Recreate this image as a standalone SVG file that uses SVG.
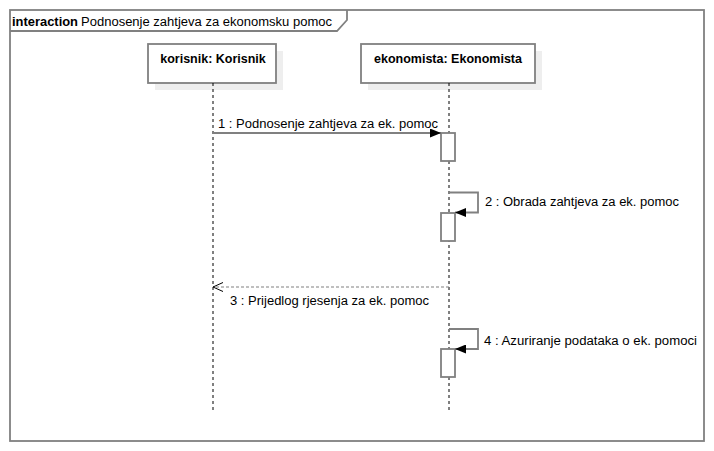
<svg xmlns="http://www.w3.org/2000/svg" width="714" height="451" viewBox="0 0 714 451">
<defs>
<style>
.frame{fill:none;stroke:#808080;stroke-width:1.8}
.box{fill:#ffffff;stroke:#808080;stroke-width:1.8}
.shadow{fill:#eeeeee;stroke:none}
.life{stroke:#000;stroke-width:1;stroke-dasharray:3,3;fill:none}
.msg{stroke:#808080;stroke-width:1.8;fill:none}
.ret{stroke:#808080;stroke-width:1.2;stroke-dasharray:3,2;fill:none}
.act{fill:#ffffff;stroke:#808080;stroke-width:1.8}
text{font-family:"DejaVu Sans","Liberation Sans",sans-serif;font-size:12px;fill:#000}
.t{font-family:"Liberation Sans",Arial,sans-serif;font-size:12.5px}
.b{font-weight:bold}
</style>
<marker id="filled" markerWidth="11" markerHeight="9" refX="11" refY="4.5" orient="auto" markerUnits="userSpaceOnUse">
<path d="M0,0 L11,4.5 L0,9 Z" fill="#000"/>
</marker>
<marker id="open" markerWidth="11" markerHeight="11" refX="10" refY="5" orient="auto" markerUnits="userSpaceOnUse">
<path d="M0,0.5 L10,5 L0,9.5" fill="none" stroke="#000" stroke-width="1"/>
</marker>
</defs>
<rect width="714" height="451" fill="#ffffff"/>
<g id="frame">
<rect class="frame" x="10" y="10" width="694" height="431"/>
<path class="frame" d="M10,31 L337,31 L347,20 L347,10"/>
<text class="t b" x="12" y="26" textLength="66" lengthAdjust="spacingAndGlyphs">interaction</text>
<text class="t" x="81" y="26" textLength="251" lengthAdjust="spacingAndGlyphs">Podnosenje zahtjeva za ekonomsku pomoc</text>
</g>
<g id="korisnik">
<rect class="shadow" x="155" y="51" width="128" height="39"/>
<rect class="box" x="148" y="44" width="128" height="39"/>
<text class="t b" x="213" y="63" text-anchor="middle">korisnik: Korisnik</text>
<line class="life" x1="213" y1="83" x2="213" y2="412"/>
</g>
<g id="ekonomista">
<rect class="shadow" x="368" y="51" width="174" height="39"/>
<rect class="box" x="361" y="44" width="174" height="39"/>
<text class="t b" x="448" y="63" text-anchor="middle">ekonomista: Ekonomista</text>
<line class="life" x1="449" y1="83" x2="449" y2="412"/>
</g>
<g id="activations">
<rect class="act" x="441" y="133" width="14" height="28"/>
<rect class="act" x="441" y="213" width="14" height="28"/>
<rect class="act" x="441" y="349" width="14" height="28"/>
</g>
<g id="connectors">
<line class="msg" x1="213" y1="133" x2="441" y2="133" marker-end="url(#filled)"/>
<polyline class="msg" points="449,192.5 478,192.5 478,212.5 455,212.5" marker-end="url(#filled)"/>
<line class="ret" x1="449" y1="287" x2="213" y2="287" marker-end="url(#open)"/>
<polyline class="msg" points="449,329 478,329 478,349 455,349" marker-end="url(#filled)"/>
</g>
<g id="labels">
<text class="t" x="218" y="128" textLength="220" lengthAdjust="spacingAndGlyphs">1 : Podnosenje zahtjeva za ek. pomoc</text>
<text class="t" x="485" y="206" textLength="194" lengthAdjust="spacingAndGlyphs">2 : Obrada zahtjeva za ek. pomoc</text>
<text class="t" x="230" y="305" textLength="199" lengthAdjust="spacingAndGlyphs">3 : Prijedlog rjesenja za ek. pomoc</text>
<text class="t" x="484" y="345" textLength="213" lengthAdjust="spacingAndGlyphs">4 : Azuriranje podataka o ek. pomoci</text>
</g>
</svg>
